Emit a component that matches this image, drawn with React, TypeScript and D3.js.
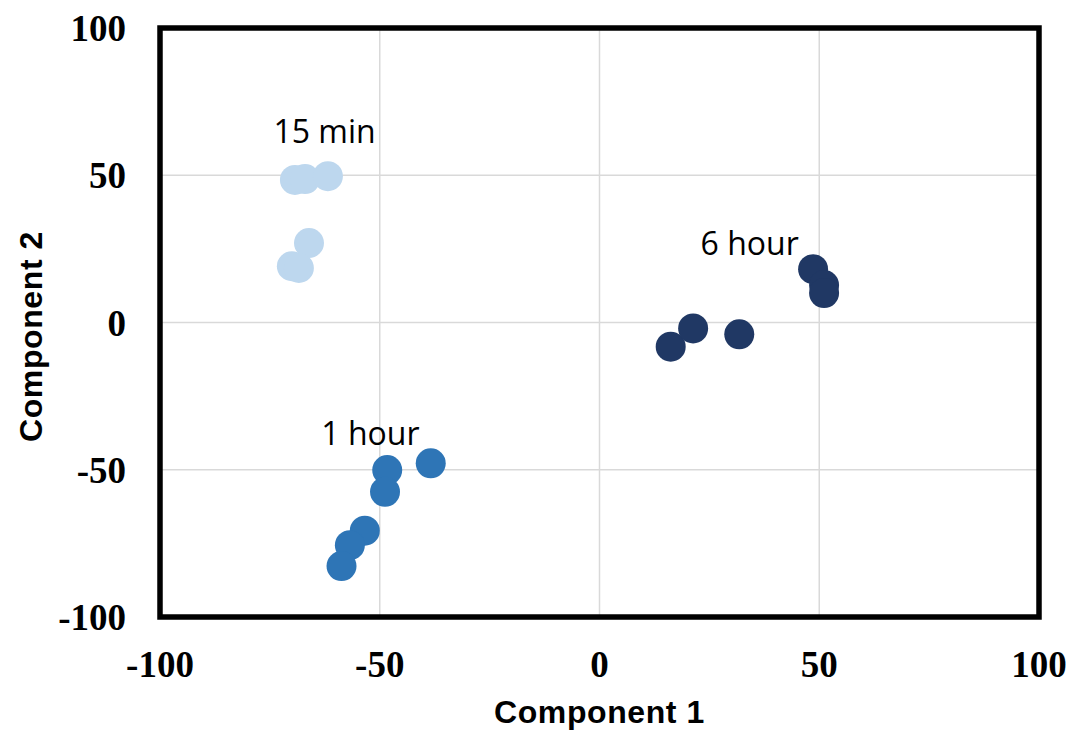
import * as d3 from "d3";
import React, { useEffect, useRef } from "react";

// group 1: 15 min
const min15X = [-69.3, -67.0, -61.8, -66.1, -70.0, -68.4];
const min15Y = [48.4, 48.7, 49.7, 27.0, 19.1, 18.5];
// group 2: 1 hour
const hour1X = [-38.4, -48.3, -48.8, -53.4, -56.8, -58.7];
const hour1Y = [-47.8, -50.1, -57.5, -70.7, -75.6, -82.7];
// group 3: 6 hour
const hour6X = [16.2, 21.3, 31.8, 48.6, 51.1, 51.1];
const hour6Y = [-8.2, -2.0, -4.0, 18.1, 12.7, 10.0];

const groupNames = ["15 min", "1 hour", "6 hour"];
const groupColors = ["#BDD7EE", "#2E75B6", "#203864"];
// label anchor (data coords, text start / baseline)
const labelX = [-74.2, -63.3, 23.0];
const labelY = [61, -41.6, 22.9];

const tickValues = [-100, -50, 0, 50, 100];

const App: React.FC = () => {
  const svgRef = useRef<SVGSVGElement | null>(null);

  useEffect(() => {
    const svg = d3.select(svgRef.current);
    svg.selectAll("*").remove();

    const left = 160;
    const right = 1039;
    const top = 28;
    const bottom = 617;

    const x = d3.scaleLinear().domain([-100, 100]).range([left, right]);
    const y = d3.scaleLinear().domain([-100, 100]).range([bottom, top]);

    // grid
    const grid = svg.append("g");
    grid
      .selectAll("line.vx")
      .data(tickValues.slice(1, -1))
      .join("line")
      .attr("x1", (d) => x(d))
      .attr("x2", (d) => x(d))
      .attr("y1", top)
      .attr("y2", bottom)
      .attr("stroke", "#D9D9D9")
      .attr("stroke-width", 1.5);
    grid
      .selectAll("line.hy")
      .data(tickValues.slice(1, -1))
      .join("line")
      .attr("x1", left)
      .attr("x2", right)
      .attr("y1", (d) => y(d))
      .attr("y2", (d) => y(d))
      .attr("stroke", "#D9D9D9")
      .attr("stroke-width", 1.5);

    // points
    const groups = [
      { xs: min15X, ys: min15Y },
      { xs: hour1X, ys: hour1Y },
      { xs: hour6X, ys: hour6Y },
    ];
    groups.forEach((g, i) => {
      svg
        .append("g")
        .selectAll("circle")
        .data(g.xs.map((v, j) => [v, g.ys[j]]))
        .join("circle")
        .attr("cx", (d) => x(d[0]))
        .attr("cy", (d) => y(d[1]))
        .attr("r", 15)
        .attr("fill", groupColors[i]);
    });

    // group labels
    svg
      .append("g")
      .selectAll("text")
      .data(groupNames)
      .join("text")
      .attr("x", (_, i) => x(labelX[i]))
      .attr("y", (_, i) => y(labelY[i]))
      .attr("font-family", "'Open Sans', sans-serif")
      .attr("font-size", 32)
      .attr("font-weight", 500)
      .attr("fill", "#000")
      .text((d) => d);

    // frame
    svg
      .append("rect")
      .attr("x", left)
      .attr("y", top)
      .attr("width", right - left)
      .attr("height", bottom - top)
      .attr("fill", "none")
      .attr("stroke", "#000")
      .attr("stroke-width", 5.5);

    // tick labels
    const tickFont = "'Liberation Serif', 'Times New Roman', serif";
    svg
      .append("g")
      .selectAll("text")
      .data(tickValues)
      .join("text")
      .attr("x", 126)
      .attr("y", (d) => y(d) + 13)
      .attr("text-anchor", "end")
      .attr("font-family", tickFont)
      .attr("font-weight", "bold")
      .attr("font-size", 37)
      .text((d) => d);
    svg
      .append("g")
      .selectAll("text")
      .data(tickValues)
      .join("text")
      .attr("x", (d) => x(d))
      .attr("y", 677)
      .attr("text-anchor", "middle")
      .attr("font-family", tickFont)
      .attr("font-weight", "bold")
      .attr("font-size", 37)
      .text((d) => d);

    // axis titles
    svg
      .append("text")
      .attr("x", (left + right) / 2)
      .attr("y", 723)
      .attr("text-anchor", "middle")
      .attr("font-family", "'Liberation Sans', Arial, sans-serif")
      .attr("font-weight", "bold")
      .attr("font-size", 32)
      .attr("letter-spacing", 0.6)
      .text("Component 1");
    svg
      .append("text")
      .attr("transform", `translate(42,${(top + bottom) / 2 + 14}) rotate(-90)`)
      .attr("text-anchor", "middle")
      .attr("font-family", "'Liberation Sans', Arial, sans-serif")
      .attr("font-weight", "bold")
      .attr("font-size", 32)
      .attr("letter-spacing", 0.6)
      .text("Component 2");
  }, []);

  return (
    <svg
      ref={svgRef}
      width={1078}
      height={738}
      style={{ position: "absolute", left: 0, top: 0, background: "#fff" }}
    ></svg>
  );
};

export default App;
